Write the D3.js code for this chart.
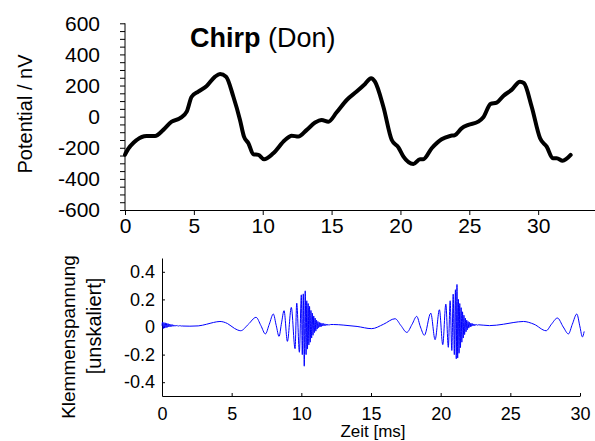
<!DOCTYPE html>
<html>
<head>
<meta charset="utf-8">
<script src="https://cdn.jsdelivr.net/npm/d3@7"></script>
<style>
  body { margin: 0; background: #fff; }
  svg text { font-family: Arial, "Liberation Sans", sans-serif; fill: #000; }
</style>
</head>
<body>
<svg id="chart" width="595" height="441"></svg>
<script>
/* top panel: recorded potential (nV) over time (ms) */
var pot_time = [0, 0.07, 0.85, 1.57, 2.18, 2.78, 3.39, 4.0, 4.48, 4.84, 5.32, 5.93, 6.54, 6.9,
    7.34, 7.87, 8.35, 8.64, 8.96, 9.32, 9.69, 10.1, 10.77, 11.62, 12.1, 12.59, 13.2, 13.8, 14.28,
    14.77, 15.37, 16.1, 16.82, 17.43, 17.87, 18.15, 18.76, 19.37, 19.85, 20.22, 20.94, 21.42, 21.66,
    22.27, 22.99, 23.6, 23.96, 24.44, 24.93, 25.65, 26.02, 26.55, 26.99, 27.47, 28.07, 28.68, 28.97,
    29.53, 30.14, 30.62, 31.06, 31.35, 31.78, 32.36];
var pot_value = [-245, -232, -150, -124, -124, -85, -32, -10, 32, 128, 161, 197, 257, 274,
    257, 128, -21, -129, -171, -242, -246, -274, -235, -150, -122, -128, -85, -38, -21,
    -32, 28, 107, 161, 210, 247, 225, 64, -150, -197, -257, -304, -274, -274,
    -203, -145, -124, -118, -75, -53, -32, -4, 82, 90, 133, 172, 225, 215,
    64, -139, -193, -267, -267, -283, -246];

/* bottom panel: clamp voltage (unscaled), extremes of the chirp */
var clamp_time = [0, 0.04, 0.09, 0.14, 0.19, 0.24, 0.29, 0.34, 0.39, 0.44, 0.49, 0.54, 0.59, 0.64,
    0.69, 0.74, 0.79, 0.84, 0.89, 0.94, 0.99, 1.04, 1.09, 1.14, 1.19, 1.24, 1.29, 1.34, 1.39, 1.44,
    1.5, 2.0, 2.6, 3.2, 3.7, 4.16, 4.7, 5.2, 5.65, 6.2, 6.75, 7.1, 7.42, 7.7, 7.99, 8.2, 8.4,
    8.58, 8.76, 9.0, 9.28, 9.55, 9.67, 9.86, 10.0, 10.07, 10.14, 10.21, 10.28, 10.34, 10.39,
    10.44, 10.49, 10.54, 10.59, 10.64, 10.69, 10.74, 10.79, 10.84, 10.89, 10.94, 10.99, 11.04,
    11.09, 11.14, 11.19, 11.24, 11.29, 11.34, 11.39, 11.44, 11.49, 11.54, 11.59, 11.64, 11.69,
    11.74, 11.79, 11.84, 11.89, 11.94, 11.99, 12.04, 12.09, 12.3, 13.0, 14.0, 15.05, 15.9,
    16.73, 17.15, 17.57, 17.95, 18.28, 18.55, 18.83, 19.29, 19.6, 19.91, 20.15, 20.37, 20.55,
    20.68, 20.8, 20.9, 20.98, 21.06, 21.12, 21.17, 21.22, 21.27, 21.32, 21.37, 21.42, 21.47,
    21.52, 21.57, 21.62, 21.67, 21.72, 21.77, 21.82, 21.87, 21.92, 21.97, 22.02, 22.07, 22.12,
    22.17, 22.22, 22.27, 22.32, 22.37, 22.42, 22.47, 22.52, 22.57, 22.62, 22.7, 23.5, 24.5,
    25.2, 25.94, 26.7, 27.57, 27.95, 28.38, 28.8, 29.17, 29.45, 29.77, 30.0, 30.17, 30.3];
var clamp_value = [0.01, 0.035, -0.012, 0.032, -0.008, 0.03, -0.005, 0.027, -0.002, 0.024, 0.0, 0.021,
    0.002, 0.019, 0.004, 0.017, 0.005, 0.015, 0.006, 0.013, 0.006, 0.012, 0.007, 0.011, 0.007,
    0.010, 0.007, 0.009, 0.007, 0.008, 0.007, 0.006, 0.008, 0.02, 0.033, 0.04, 0.025, -0.01,
    -0.027, 0.02, 0.07, 0.01, -0.05, 0.02, 0.094, 0.01, -0.068, 0.03, 0.118, -0.104, 0.142,
    -0.157, 0.173, -0.183, 0.233, -0.2, 0.24, -0.284, 0.262, -0.2, 0.19, -0.16, 0.17, -0.13,
    0.15, -0.11, 0.12, -0.08, 0.1, -0.06, 0.08, -0.04, 0.065, -0.03, 0.05, -0.015, 0.04, -0.005,
    0.033, 0.0, 0.03, 0.004, 0.027, 0.007, 0.025, 0.009, 0.023, 0.011, 0.021, 0.012, 0.02, 0.013,
    0.019, 0.014, 0.018, 0.018, 0.014, 0.004, -0.012, 0.02, 0.06, 0.01, -0.039, 0.02, 0.077,
    0.0, -0.06, 0.1, -0.092, 0.125, -0.128, 0.166, -0.147, 0.19, -0.17, 0.238, -0.2, 0.27,
    -0.23, 0.308, -0.225, 0.2, -0.19, 0.17, -0.15, 0.14, -0.11, 0.11, -0.08, 0.085, -0.055,
    0.065, -0.035, 0.05, -0.02, 0.04, -0.008, 0.033, 0.0, 0.028, 0.005, 0.025, 0.008, 0.022,
    0.01, 0.02, 0.012, 0.018, 0.013, 0.016, 0.01, 0.02, 0.032, 0.04, 0.02, -0.027, 0.02,
    0.065, 0.0, -0.05, 0.02, 0.094, 0.0, -0.072, -0.032];

var top_x_ticks = [0, 5, 10, 15, 20, 25, 30];
var top_y_ticks = [-600, -400, -200, 0, 200, 400, 600];
var bottom_x_ticks = [0, 5, 10, 15, 20, 25, 30];
var bottom_y_ticks = [-0.4, -0.2, 0, 0.2, 0.4];

var svg = d3.select("svg#chart");

function zip(xs, ys) {
    return xs.map(function (x, i) { return [x, ys[i]]; });
}

/* plain hyphen instead of d3's unicode minus, like the original figure */
function hyphen(s) {
    return String(s).replace("\u2212", "-");
}

/* ---- top panel ---- */
var x_top = d3.scaleLinear().domain([0, 34.2]).range([125, 596]);
var y_top = d3.scaleLinear().domain([-600, 600]).range([210, 23.3]);

var minor_ticks = d3.range(-600, 601, 50);
var y_axis_top = d3.axisLeft(y_top).tickValues(minor_ticks).tickSize(5)
    .tickFormat(function (d) { return top_y_ticks.indexOf(d) >= 0 ? hyphen(d) : ""; });
var g_y_top = svg.append("g").attr("transform", "translate(125,0)").call(y_axis_top);
g_y_top.select(".domain").attr("d", "M0," + y_top(600) + "V" + y_top(-600));
g_y_top.selectAll("text").attr("x", -25).attr("font-size", 21);

var x_axis_top = d3.axisBottom(x_top).tickValues(top_x_ticks).tickSize(5).tickSizeOuter(0);
var g_x_top = svg.append("g").attr("transform", "translate(0,210)").call(x_axis_top);
g_x_top.selectAll("text").attr("y", 8).attr("font-size", 21);

svg.selectAll("g.tick line").attr("stroke", "#000");

svg.append("path")
    .datum(zip(pot_time, pot_value))
    .attr("fill", "none").attr("stroke", "#000").attr("stroke-width", 4)
    .attr("stroke-linejoin", "round").attr("stroke-linecap", "round")
    .attr("d", d3.line().x(function (d) { return x_top(d[0]); })
        .y(function (d) { return y_top(d[1]); }).curve(d3.curveMonotoneX));

var title = svg.append("text").attr("x", 190).attr("y", 47).attr("font-size", 27);
title.append("tspan").attr("font-weight", "bold").text("Chirp");
title.append("tspan").text(" (Don)");

svg.append("text").attr("transform", "translate(32,114) rotate(-90)")
    .attr("text-anchor", "middle").attr("font-size", 20).text("Potential / nV");

/* ---- bottom panel ---- */
var x_bot = d3.scaleLinear().domain([0, 30]).range([162, 580]);
var y_bot = d3.scaleLinear().domain([-0.5, 0.5]).range([396, 258]);

var g_y_bot = svg.append("g").attr("transform", "translate(162,0)")
    .call(d3.axisRight(y_bot).tickValues(bottom_y_ticks).tickSize(3).tickSizeOuter(0)
        .tickFormat(function (d) { return d === 0 ? "0" : hyphen(d3.format(".1f")(d)); }));
g_y_bot.selectAll("text").attr("x", -7).attr("text-anchor", "end").attr("font-size", 18);

var g_x_bot = svg.append("g").attr("transform", "translate(0,396)")
    .call(d3.axisTop(x_bot).tickValues(bottom_x_ticks).tickSize(3).tickSizeOuter(0));
g_x_bot.selectAll("text").attr("y", 11).attr("dy", "0.71em").attr("font-size", 18);

svg.selectAll(".domain").attr("stroke", "#000");

svg.append("path")
    .datum(zip(clamp_time, clamp_value))
    .attr("fill", "none").attr("stroke", "#0000ff").attr("stroke-width", 1)
    .attr("d", d3.line().x(function (d) { return x_bot(d[0]); })
        .y(function (d) { return y_bot(d[1]); }).curve(d3.curveMonotoneX));

svg.append("text").attr("x", 373).attr("y", 437).attr("text-anchor", "middle")
    .attr("font-size", 17).text("Zeit [ms]");

svg.append("text").attr("transform", "translate(75,337) rotate(-90)")
    .attr("text-anchor", "middle").attr("font-size", 19).text("Klemmenspannung");
svg.append("text").attr("transform", "translate(101,326) rotate(-90)")
    .attr("text-anchor", "middle").attr("font-size", 20).text("[unskaliert]");
</script>
</body>
</html>
